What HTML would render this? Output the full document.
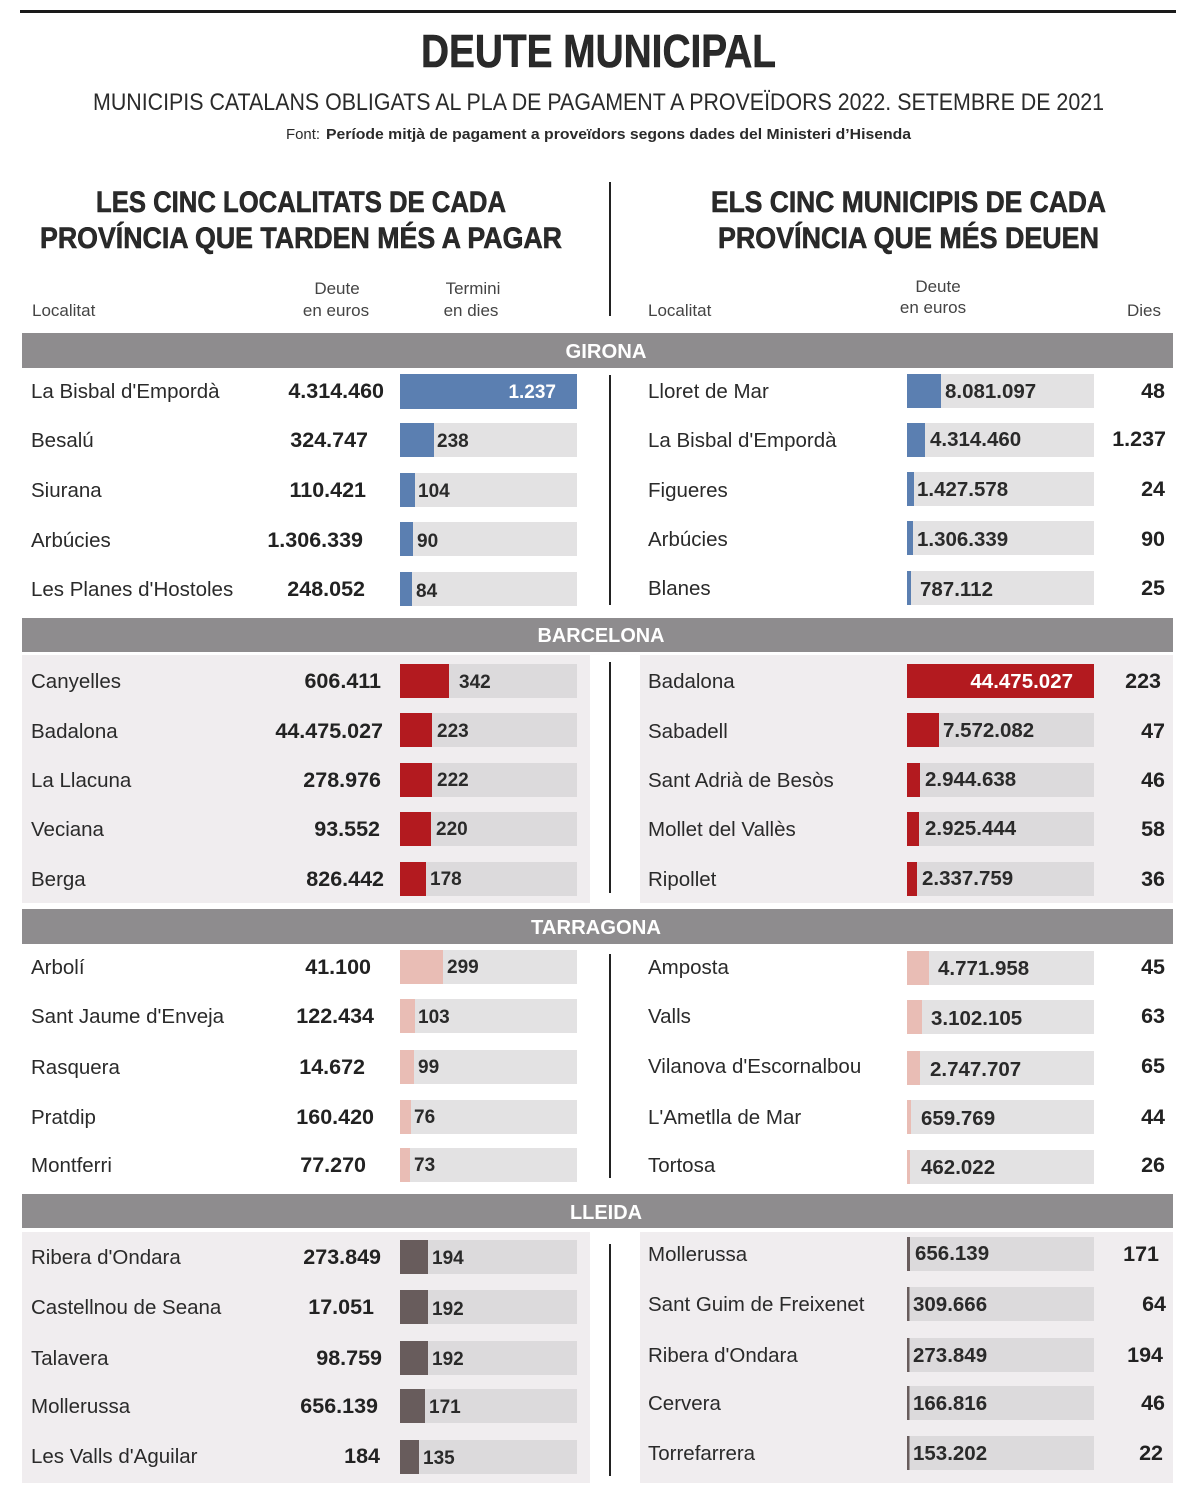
<!DOCTYPE html>
<html>
<head>
<meta charset="utf-8">
<style>
html,body{margin:0;padding:0;background:#fff;}
svg{display:block;}
text{font-family:"Liberation Sans",Arial,sans-serif;fill:#2a2a2a;}
.n{font-size:20.5px;}
.b{font-size:21.5px;font-weight:bold;fill:#222;}
.bl{font-size:19px;font-weight:bold;fill:#2a2a2a;}
.rl{font-size:20.5px;font-weight:bold;fill:#2a2a2a;}
.h{font-size:17px;fill:#444;}
.band{font-size:20px;font-weight:bold;fill:#fff;}
.w{fill:#fff;}
.hv{stroke:#1e1e1e;stroke-width:0.6px;}
</style>
</head>
<body>
<svg width="1200" height="1508" viewBox="0 0 1200 1508" xmlns="http://www.w3.org/2000/svg">
<rect x="0" y="0" width="1200" height="1508" fill="#fff"/>
<!-- top rule -->
<rect x="20" y="10" width="1156" height="3" fill="#1a1a1a"/>
<!-- titles -->
<text class="hv" x="421" y="67" font-size="46" font-weight="bold" textLength="355" lengthAdjust="spacingAndGlyphs" fill="#1e1e1e">DEUTE MUNICIPAL</text>
<text x="93" y="110" font-size="24" textLength="1011" lengthAdjust="spacingAndGlyphs" fill="#2a2a2a">MUNICIPIS CATALANS OBLIGATS AL PLA DE PAGAMENT A PROVEÏDORS 2022. SETEMBRE DE 2021</text>
<text x="286" y="139" font-size="15" textLength="34" lengthAdjust="spacingAndGlyphs" fill="#333">Font:</text>
<text x="326" y="139" font-size="15" font-weight="bold" textLength="585" lengthAdjust="spacingAndGlyphs" fill="#222">Període mitjà de pagament a proveïdors segons dades del Ministeri d’Hisenda</text>

<!-- section headings -->
<text class="hv" x="96" y="212" font-size="30" font-weight="bold" textLength="410" lengthAdjust="spacingAndGlyphs" fill="#1e1e1e">LES CINC LOCALITATS DE CADA</text>
<text class="hv" x="40" y="248" font-size="30" font-weight="bold" textLength="522" lengthAdjust="spacingAndGlyphs" fill="#1e1e1e">PROVÍNCIA QUE TARDEN MÉS A PAGAR</text>
<text class="hv" x="711" y="212" font-size="30" font-weight="bold" textLength="395" lengthAdjust="spacingAndGlyphs" fill="#1e1e1e">ELS CINC MUNICIPIS DE CADA</text>
<text class="hv" x="718" y="248" font-size="30" font-weight="bold" textLength="381" lengthAdjust="spacingAndGlyphs" fill="#1e1e1e">PROVÍNCIA QUE MÉS DEUEN</text>

<!-- column headers -->
<text class="h" x="32" y="316">Localitat</text>
<text class="h" x="337" y="294" text-anchor="middle">Deute</text>
<text class="h" x="336" y="316" text-anchor="middle">en euros</text>
<text class="h" x="473" y="294" text-anchor="middle">Termini</text>
<text class="h" x="471" y="316" text-anchor="middle">en dies</text>
<text class="h" x="648" y="316">Localitat</text>
<text class="h" x="938" y="292" text-anchor="middle">Deute</text>
<text class="h" x="933" y="313" text-anchor="middle">en euros</text>
<text class="h" x="1161" y="316" text-anchor="end">Dies</text>

<!-- dividers -->
<g fill="#222">
<rect x="609" y="182" width="2" height="134"/>
<rect x="609" y="375" width="2" height="230"/>
<rect x="609" y="662" width="2" height="231"/>
<rect x="609" y="954" width="2" height="224"/>
<rect x="609" y="1244" width="2" height="232"/>
</g>

<!-- panels -->
<g fill="#f0edef">
<rect x="22" y="655" width="568" height="248"/>
<rect x="640" y="655" width="533" height="248"/>
<rect x="22" y="1232" width="568" height="251"/>
<rect x="640" y="1232" width="533" height="251"/>
</g>

<!-- bands -->
<g fill="#8e8c8e">
<rect x="22" y="333" width="1151" height="35"/>
<rect x="22" y="618" width="1151" height="34"/>
<rect x="22" y="909" width="1151" height="35"/>
<rect x="22" y="1194" width="1151" height="34"/>
</g>
<text class="band" x="606" y="358" text-anchor="middle" textLength="81" lengthAdjust="spacingAndGlyphs">GIRONA</text>
<text class="band" x="601" y="642" text-anchor="middle" textLength="127" lengthAdjust="spacingAndGlyphs">BARCELONA</text>
<text class="band" x="596" y="934" text-anchor="middle" textLength="130" lengthAdjust="spacingAndGlyphs">TARRAGONA</text>
<text class="band" x="606" y="1219" text-anchor="middle" textLength="72" lengthAdjust="spacingAndGlyphs">LLEIDA</text>

<!-- ============ GIRONA ============ -->
<g>
<text class="n" x="31" y="398">La Bisbal d'Empordà</text>
<text class="b" x="384" y="398" text-anchor="end">4.314.460</text>
<rect x="400" y="374" width="177" height="35" fill="#e3e2e3"/>
<rect x="400" y="374" width="177" height="35" fill="#5b7fb1"/>
<text class="bl w" x="556" y="398" text-anchor="end">1.237</text>

<text class="n" x="31" y="447">Besalú</text>
<text class="b" x="368" y="447" text-anchor="end">324.747</text>
<rect x="400" y="423" width="177" height="34" fill="#e3e2e3"/>
<rect x="400" y="423" width="34" height="34" fill="#5b7fb1"/>
<text class="bl" x="437" y="447">238</text>

<text class="n" x="31" y="497">Siurana</text>
<text class="b" x="366" y="497" text-anchor="end">110.421</text>
<rect x="400" y="473" width="177" height="34" fill="#e3e2e3"/>
<rect x="400" y="473" width="15" height="34" fill="#5b7fb1"/>
<text class="bl" x="418" y="497">104</text>

<text class="n" x="31" y="547">Arbúcies</text>
<text class="b" x="363" y="547" text-anchor="end">1.306.339</text>
<rect x="400" y="522" width="177" height="34" fill="#e3e2e3"/>
<rect x="400" y="522" width="13" height="34" fill="#5b7fb1"/>
<text class="bl" x="417" y="547">90</text>

<text class="n" x="31" y="596">Les Planes d'Hostoles</text>
<text class="b" x="365" y="596" text-anchor="end">248.052</text>
<rect x="400" y="572" width="177" height="34" fill="#e3e2e3"/>
<rect x="400" y="572" width="12" height="34" fill="#5b7fb1"/>
<text class="bl" x="416" y="597">84</text>

<text class="n" x="648" y="398">Lloret de Mar</text>
<rect x="907" y="374" width="187" height="34" fill="#e3e2e3"/>
<rect x="907" y="374" width="34" height="34" fill="#5b7fb1"/>
<text class="rl" x="945" y="398">8.081.097</text>
<text class="b" x="1165" y="398" text-anchor="end">48</text>

<text class="n" x="648" y="447">La Bisbal d'Empordà</text>
<rect x="907" y="423" width="187" height="34" fill="#e3e2e3"/>
<rect x="907" y="423" width="18" height="34" fill="#5b7fb1"/>
<text class="rl" x="930" y="446">4.314.460</text>
<text class="b" x="1166" y="446" text-anchor="end">1.237</text>

<text class="n" x="648" y="497">Figueres</text>
<rect x="907" y="472" width="187" height="34" fill="#e3e2e3"/>
<rect x="907" y="472" width="7" height="34" fill="#5b7fb1"/>
<text class="rl" x="917" y="496">1.427.578</text>
<text class="b" x="1165" y="496" text-anchor="end">24</text>

<text class="n" x="648" y="546">Arbúcies</text>
<rect x="907" y="521" width="187" height="34" fill="#e3e2e3"/>
<rect x="907" y="521" width="6" height="34" fill="#5b7fb1"/>
<text class="rl" x="917" y="546">1.306.339</text>
<text class="b" x="1165" y="546" text-anchor="end">90</text>

<text class="n" x="648" y="595">Blanes</text>
<rect x="907" y="571" width="187" height="34" fill="#e3e2e3"/>
<rect x="907" y="571" width="4" height="34" fill="#5b7fb1"/>
<text class="rl" x="920" y="596">787.112</text>
<text class="b" x="1165" y="595" text-anchor="end">25</text>
</g>

<!-- ============ BARCELONA ============ -->
<g>
<text class="n" x="31" y="688">Canyelles</text>
<text class="b" x="381" y="688" text-anchor="end">606.411</text>
<rect x="400" y="664" width="177" height="34" fill="#dcdadc"/>
<rect x="400" y="664" width="49" height="34" fill="#b31a1f"/>
<text class="bl" x="459" y="688">342</text>

<text class="n" x="31" y="738">Badalona</text>
<text class="b" x="383" y="738" text-anchor="end">44.475.027</text>
<rect x="400" y="713" width="177" height="34" fill="#dcdadc"/>
<rect x="400" y="713" width="32" height="34" fill="#b31a1f"/>
<text class="bl" x="437" y="737">223</text>

<text class="n" x="31" y="787">La Llacuna</text>
<text class="b" x="381" y="787" text-anchor="end">278.976</text>
<rect x="400" y="763" width="177" height="34" fill="#dcdadc"/>
<rect x="400" y="763" width="32" height="34" fill="#b31a1f"/>
<text class="bl" x="437" y="786">222</text>

<text class="n" x="31" y="836">Veciana</text>
<text class="b" x="380" y="836" text-anchor="end">93.552</text>
<rect x="400" y="812" width="177" height="34" fill="#dcdadc"/>
<rect x="400" y="812" width="31" height="34" fill="#b31a1f"/>
<text class="bl" x="436" y="835">220</text>

<text class="n" x="31" y="886">Berga</text>
<text class="b" x="384" y="886" text-anchor="end">826.442</text>
<rect x="400" y="862" width="177" height="34" fill="#dcdadc"/>
<rect x="400" y="862" width="26" height="34" fill="#b31a1f"/>
<text class="bl" x="430" y="885">178</text>

<text class="n" x="648" y="688">Badalona</text>
<rect x="907" y="664" width="187" height="34" fill="#dcdadc"/>
<rect x="907" y="664" width="187" height="34" fill="#b31a1f"/>
<text class="rl w" x="1073" y="688" text-anchor="end">44.475.027</text>
<text class="b" x="1161" y="688" text-anchor="end">223</text>

<text class="n" x="648" y="738">Sabadell</text>
<rect x="907" y="713" width="187" height="34" fill="#dcdadc"/>
<rect x="907" y="713" width="32" height="34" fill="#b31a1f"/>
<text class="rl" x="943" y="737">7.572.082</text>
<text class="b" x="1165" y="738" text-anchor="end">47</text>

<text class="n" x="648" y="787">Sant Adrià de Besòs</text>
<rect x="907" y="763" width="187" height="34" fill="#dcdadc"/>
<rect x="907" y="763" width="13" height="34" fill="#b31a1f"/>
<text class="rl" x="925" y="786">2.944.638</text>
<text class="b" x="1165" y="787" text-anchor="end">46</text>

<text class="n" x="648" y="836">Mollet del Vallès</text>
<rect x="907" y="812" width="187" height="34" fill="#dcdadc"/>
<rect x="907" y="812" width="12" height="34" fill="#b31a1f"/>
<text class="rl" x="925" y="835">2.925.444</text>
<text class="b" x="1165" y="836" text-anchor="end">58</text>

<text class="n" x="648" y="886">Ripollet</text>
<rect x="907" y="862" width="187" height="34" fill="#dcdadc"/>
<rect x="907" y="862" width="10" height="34" fill="#b31a1f"/>
<text class="rl" x="922" y="885">2.337.759</text>
<text class="b" x="1165" y="886" text-anchor="end">36</text>
</g>

<!-- ============ TARRAGONA ============ -->
<g>
<text class="n" x="31" y="974">Arbolí</text>
<text class="b" x="371" y="974" text-anchor="end">41.100</text>
<rect x="400" y="950" width="177" height="34" fill="#e3e2e3"/>
<rect x="400" y="950" width="43" height="34" fill="#e9bdb5"/>
<text class="bl" x="447" y="973">299</text>

<text class="n" x="31" y="1023">Sant Jaume d'Enveja</text>
<text class="b" x="374" y="1023" text-anchor="end">122.434</text>
<rect x="400" y="999" width="177" height="34" fill="#e3e2e3"/>
<rect x="400" y="999" width="15" height="34" fill="#e9bdb5"/>
<text class="bl" x="418" y="1023">103</text>

<text class="n" x="31" y="1074">Rasquera</text>
<text class="b" x="365" y="1074" text-anchor="end">14.672</text>
<rect x="400" y="1050" width="177" height="34" fill="#e3e2e3"/>
<rect x="400" y="1050" width="14" height="34" fill="#e9bdb5"/>
<text class="bl" x="418" y="1073">99</text>

<text class="n" x="31" y="1124">Pratdip</text>
<text class="b" x="374" y="1124" text-anchor="end">160.420</text>
<rect x="400" y="1100" width="177" height="34" fill="#e3e2e3"/>
<rect x="400" y="1100" width="11" height="34" fill="#e9bdb5"/>
<text class="bl" x="414" y="1123">76</text>

<text class="n" x="31" y="1172">Montferri</text>
<text class="b" x="366" y="1172" text-anchor="end">77.270</text>
<rect x="400" y="1148" width="177" height="34" fill="#e3e2e3"/>
<rect x="400" y="1148" width="10" height="34" fill="#e9bdb5"/>
<text class="bl" x="414" y="1171">73</text>

<text class="n" x="648" y="974">Amposta</text>
<rect x="907" y="951" width="187" height="34" fill="#e3e2e3"/>
<rect x="907" y="951" width="22" height="34" fill="#e9bdb5"/>
<text class="rl" x="938" y="975">4.771.958</text>
<text class="b" x="1165" y="974" text-anchor="end">45</text>

<text class="n" x="648" y="1023">Valls</text>
<rect x="907" y="1000" width="187" height="34" fill="#e3e2e3"/>
<rect x="907" y="1000" width="15" height="34" fill="#e9bdb5"/>
<text class="rl" x="931" y="1025">3.102.105</text>
<text class="b" x="1165" y="1023" text-anchor="end">63</text>

<text class="n" x="648" y="1073">Vilanova d'Escornalbou</text>
<rect x="907" y="1051" width="187" height="34" fill="#e3e2e3"/>
<rect x="907" y="1051" width="13" height="34" fill="#e9bdb5"/>
<text class="rl" x="930" y="1076">2.747.707</text>
<text class="b" x="1165" y="1073" text-anchor="end">65</text>

<text class="n" x="648" y="1124">L'Ametlla de Mar</text>
<rect x="907" y="1100" width="187" height="34" fill="#e3e2e3"/>
<rect x="907" y="1100" width="4" height="34" fill="#e9bdb5"/>
<text class="rl" x="921" y="1125">659.769</text>
<text class="b" x="1165" y="1124" text-anchor="end">44</text>

<text class="n" x="648" y="1172">Tortosa</text>
<rect x="907" y="1150" width="187" height="34" fill="#e3e2e3"/>
<rect x="907" y="1150" width="3" height="34" fill="#e9bdb5"/>
<text class="rl" x="921" y="1174">462.022</text>
<text class="b" x="1165" y="1172" text-anchor="end">26</text>
</g>

<!-- ============ LLEIDA ============ -->
<g>
<text class="n" x="31" y="1264">Ribera d'Ondara</text>
<text class="b" x="381" y="1264" text-anchor="end">273.849</text>
<rect x="400" y="1240" width="177" height="34" fill="#dcdadc"/>
<rect x="400" y="1240" width="28" height="34" fill="#685c5c"/>
<text class="bl" x="432" y="1264">194</text>

<text class="n" x="31" y="1314">Castellnou de Seana</text>
<text class="b" x="374" y="1314" text-anchor="end">17.051</text>
<rect x="400" y="1290" width="177" height="34" fill="#dcdadc"/>
<rect x="400" y="1290" width="28" height="34" fill="#685c5c"/>
<text class="bl" x="432" y="1315">192</text>

<text class="n" x="31" y="1365">Talavera</text>
<text class="b" x="382" y="1365" text-anchor="end">98.759</text>
<rect x="400" y="1341" width="177" height="34" fill="#dcdadc"/>
<rect x="400" y="1341" width="28" height="34" fill="#685c5c"/>
<text class="bl" x="432" y="1365">192</text>

<text class="n" x="31" y="1413">Mollerussa</text>
<text class="b" x="378" y="1413" text-anchor="end">656.139</text>
<rect x="400" y="1389" width="177" height="34" fill="#dcdadc"/>
<rect x="400" y="1389" width="25" height="34" fill="#685c5c"/>
<text class="bl" x="429" y="1413">171</text>

<text class="n" x="31" y="1463">Les Valls d'Aguilar</text>
<text class="b" x="380" y="1463" text-anchor="end">184</text>
<rect x="400" y="1440" width="177" height="34" fill="#dcdadc"/>
<rect x="400" y="1440" width="19" height="34" fill="#685c5c"/>
<text class="bl" x="423" y="1464">135</text>

<text class="n" x="648" y="1261">Mollerussa</text>
<rect x="907" y="1237" width="187" height="34" fill="#dcdadc"/>
<rect x="907" y="1237" width="3" height="34" fill="#685c5c"/>
<text class="rl" x="915" y="1260">656.139</text>
<text class="b" x="1159" y="1261" text-anchor="end">171</text>

<text class="n" x="648" y="1311">Sant Guim de Freixenet</text>
<rect x="907" y="1287" width="187" height="34" fill="#dcdadc"/>
<rect x="907" y="1287" width="2.5" height="34" fill="#685c5c"/>
<text class="rl" x="913" y="1311">309.666</text>
<text class="b" x="1166" y="1311" text-anchor="end">64</text>

<text class="n" x="648" y="1362">Ribera d'Ondara</text>
<rect x="907" y="1338" width="187" height="34" fill="#dcdadc"/>
<rect x="907" y="1338" width="2.5" height="34" fill="#685c5c"/>
<text class="rl" x="913" y="1362">273.849</text>
<text class="b" x="1163" y="1362" text-anchor="end">194</text>

<text class="n" x="648" y="1410">Cervera</text>
<rect x="907" y="1386" width="187" height="34" fill="#dcdadc"/>
<rect x="907" y="1386" width="2.5" height="34" fill="#685c5c"/>
<text class="rl" x="913" y="1410">166.816</text>
<text class="b" x="1165" y="1410" text-anchor="end">46</text>

<text class="n" x="648" y="1460">Torrefarrera</text>
<rect x="907" y="1436" width="187" height="34" fill="#dcdadc"/>
<rect x="907" y="1436" width="2.5" height="34" fill="#685c5c"/>
<text class="rl" x="913" y="1460">153.202</text>
<text class="b" x="1163" y="1460" text-anchor="end">22</text>
</g>
</svg>
</body>
</html>
